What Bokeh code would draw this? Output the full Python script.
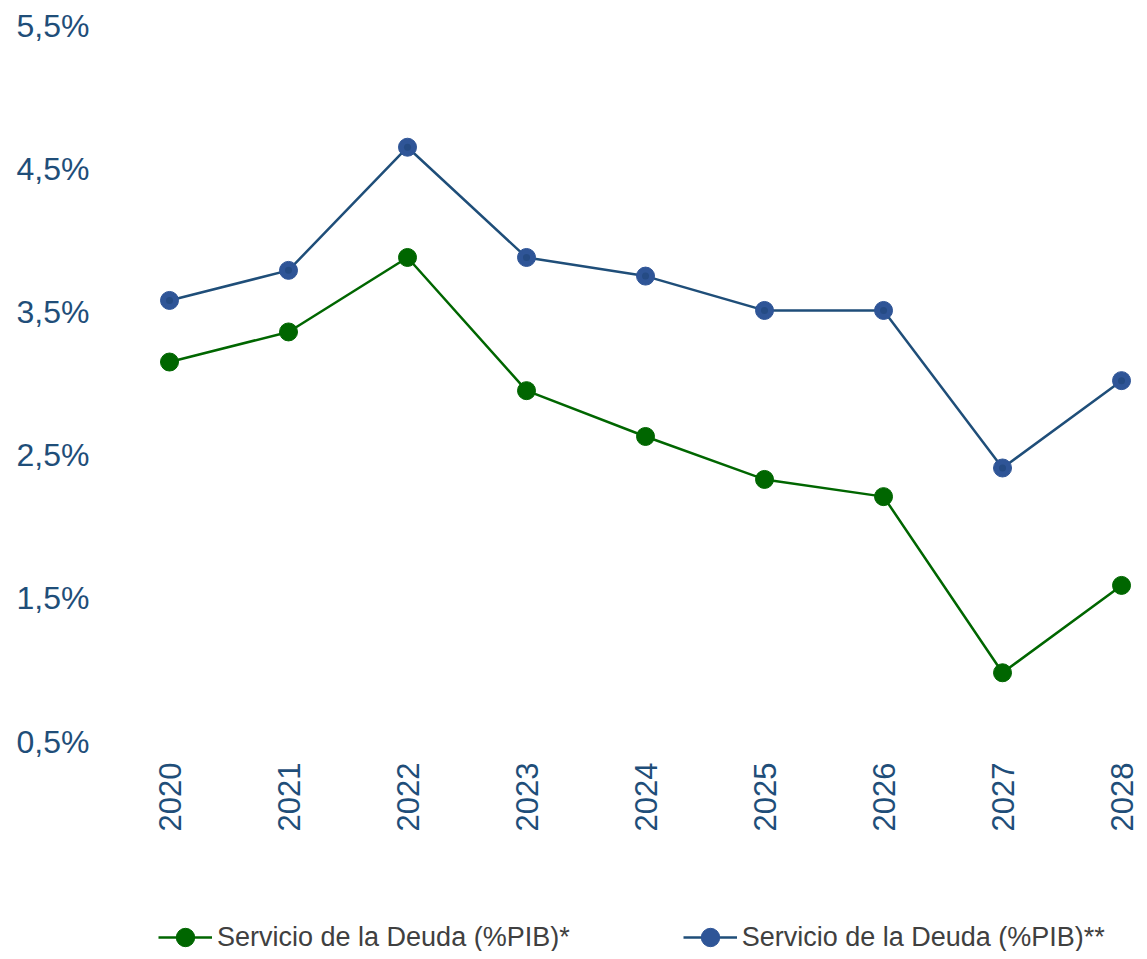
import math
from bokeh.plotting import figure
from bokeh.layouts import column
from bokeh.models import Range1d, FixedTicker, Legend, LegendItem
from bokeh.embed import file_html
from bokeh.resources import INLINE

years = [2020, 2021, 2022, 2023, 2024, 2025, 2026, 2027, 2028]
servicio_1 = [3.15, 3.36, 3.88, 2.95, 2.63, 2.33, 2.21, 0.98, 1.59]
servicio_2 = [3.58, 3.79, 4.65, 3.88, 3.75, 3.51, 3.51, 2.41, 3.02]
y_ticks = [0.5, 1.5, 2.5, 3.5, 4.5, 5.5]
y_tick_labels = ["0,5%", "1,5%", "2,5%", "3,5%", "4,5%", "5,5%"]
series_names = ["Servicio de la Deuda (%PIB)*", "Servicio de la Deuda (%PIB)**"]

FONT = "Liberation Sans"
TICK_COLOR = "#1F4E79"
GREEN = "#006600"
BLUE_LINE = "#1F4E79"
BLUE_FILL = "#2F5597"
BLUE_CORE = "#254B84"

p = figure(width=1139, height=850, output_backend="svg", toolbar_location=None,
           x_range=Range1d(2019.5126, 2028.151), y_range=Range1d(0.5, 5.5),
           min_border_left=111, min_border_right=0, min_border_top=25, min_border_bottom=109)
p.outline_line_color = None
p.grid.visible = False

for ax in (p.xaxis[0], p.yaxis[0]):
    ax.axis_line_color = None
    ax.major_tick_line_color = None
    ax.minor_tick_line_color = None
    ax.major_tick_out = 0
    ax.minor_tick_out = 0
    ax.major_label_text_font = FONT
    ax.major_label_text_color = TICK_COLOR

p.xaxis.ticker = FixedTicker(ticks=years)
p.xaxis.major_label_orientation = math.pi / 2
p.xaxis.major_label_standoff = 21
p.xaxis.major_label_text_font_size = "31px"
p.yaxis.ticker = FixedTicker(ticks=y_ticks)
p.yaxis.major_label_overrides = {t: l for t, l in zip(y_ticks, y_tick_labels)}
p.yaxis.major_label_standoff = 22
p.yaxis.major_label_text_font_size = "32px"

p.line(years, servicio_1, line_color=GREEN, line_width=2.5)
p.scatter(years, servicio_1, size=18, fill_color=GREEN, line_color=GREEN)
p.line(years, servicio_2, line_color=BLUE_LINE, line_width=2.5)
p.scatter(years, servicio_2, size=18, fill_color=BLUE_FILL, line_color=BLUE_FILL)
p.scatter(years, servicio_2, size=7, fill_color=BLUE_CORE, line_color=None)

# legend strip: same series, kept outside its own (0..1) view so only the legend keys show
pl = figure(width=1139, height=101, output_backend="svg", toolbar_location=None,
            x_axis_type=None, y_axis_type=None, x_range=Range1d(0, 1), y_range=Range1d(0, 1),
            min_border_left=111, min_border_right=0, min_border_top=0, min_border_bottom=0)
pl.outline_line_color = None
pl.grid.visible = False
k1l = pl.line(years, servicio_1, line_color=GREEN, line_width=2.5)
k1c = pl.scatter(years, servicio_1, fill_color=GREEN, line_color=GREEN)
k2l = pl.line(years, servicio_2, line_color=BLUE_LINE, line_width=2.5)
k2c = pl.scatter(years, servicio_2, fill_color=BLUE_FILL, line_color=BLUE_FILL)

legend = Legend(items=[LegendItem(label=series_names[0], renderers=[k1l, k1c]),
                       LegendItem(label=series_names[1], renderers=[k2l, k2c])],
                location=(47, -9), orientation="horizontal",
                padding=0, margin=0, spacing=113, glyph_width=54, glyph_height=46,
                label_height=46, label_standoff=5,
                label_text_font=FONT, label_text_font_size="27px", label_text_color="#404040",
                border_line_color=None, background_fill_alpha=0)
pl.add_layout(legend, "center")

layout = column(p, pl, spacing=0)
open("out.html", "w").write(file_html(layout, INLINE))
